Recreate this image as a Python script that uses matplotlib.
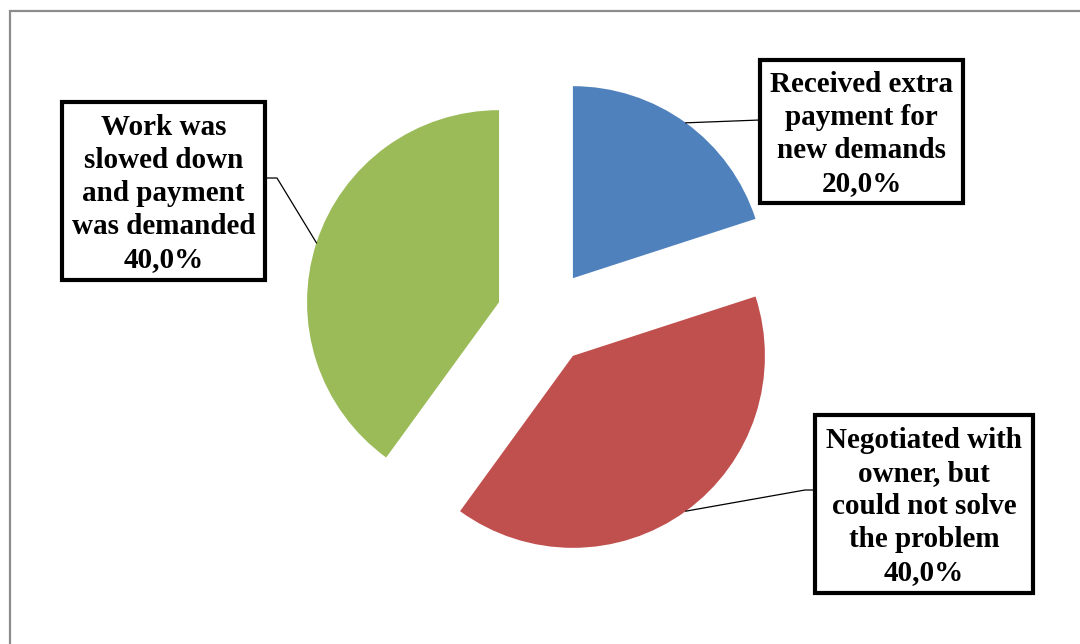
import numpy as np
import matplotlib
matplotlib.use("Agg")
import matplotlib.pyplot as plt
from matplotlib.patches import Rectangle

# Survey responses
categories = [
    "Received extra\npayment for\nnew demands",
    "Negotiated with\nowner, but\ncould not solve\nthe problem",
    "Work was\nslowed down\nand payment\nwas demanded",
]
shares = [20.0, 40.0, 40.0]
colors = ["#4F81BD", "#C0504D", "#9BBB59"]

W, H = 1080, 644
fig = plt.figure(figsize=(W / 100, H / 100), dpi=100)
ax = fig.add_axes([0, 0, 1, 1])
ax.set_xlim(0, W)
ax.set_ylim(0, H)
ax.axis("off")

center = (544.7, H - 317)
radius = 192
offset = 48  # explode distance in data units

wedges, _ = ax.pie(shares, explode=[offset] * len(shares), startangle=90,
                   counterclock=False, colors=colors, center=center, radius=radius,
                   wedgeprops=dict(linewidth=0))
ax.set_xlim(0, W)
ax.set_ylim(0, H)
ax.set_aspect("equal")

# Outer chart frame
ax.add_patch(Rectangle((9.5, -20), W + 20, H - 10.5 + 20, fill=False,
                       edgecolor="#8c8c8c", linewidth=1.6, clip_on=False))

# Label boxes (pixel layout: left, top, right, bottom) and leader anchors
boxes = [
    (760, 60, 963, 203),
    (815, 415, 1033, 593),
    (62, 102, 265, 280),
]
leader_ends = [
    [(760, 120)],
    [(805, 490), (815, 490)],
    [(277, 178), (265, 178)],
]
line_step = 33.2   # baseline-to-baseline distance, px
base_shift = 10.0  # half cap height, px

for w, cat, val, box, ends in zip(wedges, categories, shares, boxes, leader_ends):
    l, t, r, b = box
    ax.add_patch(Rectangle((l, H - b), r - l, b - t, facecolor="white",
                           edgecolor="black", linewidth=3.0, zorder=3))
    lines = cat.split("\n") + [f"{val:.1f}%".replace(".", ",")]
    n = len(lines)
    cy_px = (t + b) / 2
    for i, txt in enumerate(lines):
        y_px = cy_px + (i - (n - 1) / 2) * line_step + base_shift
        ax.text((l + r) / 2, H - y_px, txt, ha="center", va="baseline",
                family="Liberation Serif", fontweight="bold", fontsize=21,
                zorder=4)
    # leader from the wedge's mid-arc point to the box
    mid = np.deg2rad((w.theta1 + w.theta2) / 2)
    cx, cy = w.center
    px, py = cx + w.r * np.cos(mid), cy + w.r * np.sin(mid)
    xs = [px] + [e[0] for e in ends]
    ys = [py] + [H - e[1] for e in ends]
    ax.plot(xs, ys, color="black", linewidth=0.9, zorder=2)

fig.savefig("out.png", dpi=100)
